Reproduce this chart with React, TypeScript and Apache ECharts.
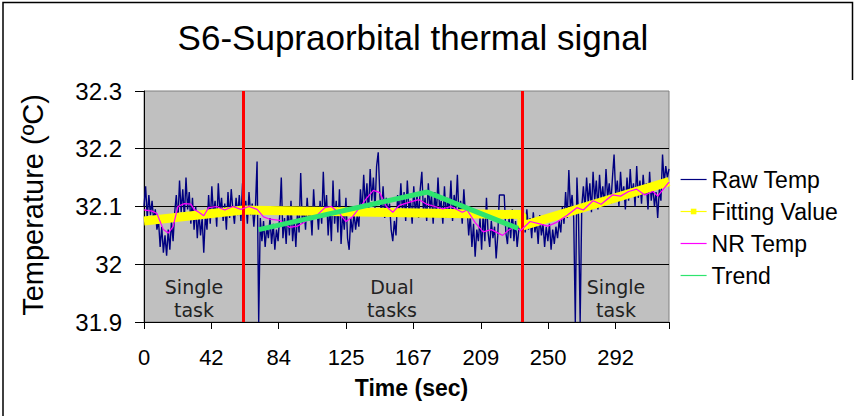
import React, { useEffect, useRef } from 'react';
import * as echarts from 'echarts';

// Raw temperature, one sample per second from t = 0 s to t = 325 s
const rawTemp = [
  32.100, 32.135, 32.080, 32.120, 32.085, 32.110, 32.075, 32.095, 32.060, 32.075,
  32.030, 32.065, 32.020, 32.050, 32.015, 32.060, 32.025, 32.075, 32.040, 32.090,
  32.120, 32.075, 32.145, 32.090, 32.130, 32.080, 32.150, 32.095, 32.125, 32.070,
  32.115, 32.060, 32.100, 32.045, 32.090, 32.050, 32.080, 32.020, 32.085, 32.060,
  32.120, 32.070, 32.135, 32.085, 32.110, 32.065, 32.140, 32.090, 32.115, 32.075,
  32.105, 32.060, 32.125, 32.080, 32.130, 32.095, 32.070, 32.115, 32.085, 32.120,
  32.075, 32.140, 32.090, 32.110, 32.070, 32.125, 32.085, 32.105, 32.065, 32.100,
  32.178, 31.900, 32.080, 32.040, 32.075, 32.030, 32.065, 32.045, 32.080, 32.035,
  32.070, 32.025, 32.060, 32.040, 32.085, 32.150, 32.045, 32.080, 32.035, 32.095,
  32.050, 32.110, 32.040, 32.075, 32.030, 32.090, 32.055, 32.158, 32.070, 32.100,
  32.060, 32.115, 32.075, 32.095, 32.050, 32.130, 32.080, 32.100, 32.060, 32.110,
  32.070, 32.160, 32.085, 32.120, 32.050, 32.100, 32.040, 32.145, 32.070, 32.110,
  32.055, 32.130, 32.035, 32.090, 32.060, 32.115, 32.045, 32.025, 32.080, 32.055,
  32.090, 32.060, 32.085, 32.065, 32.130, 32.090, 32.155, 32.100, 32.140, 32.085,
  32.165, 32.110, 32.150, 32.095, 32.170, 32.194, 32.120, 32.085, 32.135, 32.080,
  32.115, 32.090, 32.105, 32.060, 32.040, 32.075, 32.050, 32.120, 32.085, 32.140,
  32.090, 32.125, 32.075, 32.145, 32.095, 32.110, 32.070, 32.135, 32.085, 32.120,
  32.080, 32.130, 32.160, 32.090, 32.115, 32.075, 32.140, 32.095, 32.120, 32.070,
  32.125, 32.085, 32.150, 32.095, 32.110, 32.070, 32.135, 32.080, 32.115, 32.090,
  32.145, 32.075, 32.120, 32.095, 32.155, 32.080, 32.110, 32.070, 32.130, 32.085,
  32.100, 32.050, 32.085, 32.030, 32.070, 32.013, 32.060, 32.040, 32.080, 32.025,
  32.090, 32.040, 32.115, 32.055, 32.030, 32.075, 32.045, 32.065, 32.010, 32.050,
  32.120, 32.120, 32.120, 32.120, 32.055, 32.035, 32.080, 32.045, 32.095, 32.040,
  32.075, 32.030, 32.060, 32.090, 32.050, 32.085, 32.055, 32.095, 32.060, 32.080,
  32.045, 32.090, 32.055, 32.075, 32.035, 32.085, 32.050, 32.070, 32.030, 32.065,
  32.040, 32.070, 32.025, 32.060, 32.035, 32.065, 32.045, 32.075, 32.055, 32.100,
  32.070, 32.125, 32.080, 32.163, 32.095, 32.120, 32.080, 31.900, 32.150, 32.080,
  31.900, 32.100, 32.135, 32.095, 32.150, 32.105, 32.140, 32.090, 32.160, 32.110,
  32.145, 32.095, 32.155, 32.110, 32.135, 32.100, 32.165, 32.115, 32.140, 32.105,
  32.150, 32.190, 32.120, 32.145, 32.100, 32.160, 32.115, 32.135, 32.095, 32.150,
  32.110, 32.165, 32.120, 32.140, 32.100, 32.170, 32.115, 32.145, 32.105, 32.155,
  32.120, 32.140, 32.095, 32.160, 32.110, 32.135, 32.100, 32.125, 32.080, 32.130,
  32.110, 32.190, 32.140, 32.170, 32.150, 32.165,
];

// Noise-reduced temperature (read at knots)
const nrTimes = [
  0, 5, 8, 12, 15, 18, 21, 25, 29, 31, 34, 37, 40, 45, 50, 55, 60, 65, 70, 74,
  78, 84, 90, 95, 100, 106, 112, 116, 121, 125, 129, 134, 138, 142, 146, 150, 154, 158,
  165, 170, 175, 180, 185, 190, 197, 200, 205, 210, 215, 222, 226, 230, 233,
  239, 245, 250, 255, 262, 268, 272, 278, 283, 290, 295, 300, 305, 310, 315, 318, 325,
];
const nrValues = [
  32.094, 32.092, 32.088, 32.060, 32.054, 32.065, 32.100, 32.105, 32.104, 32.095, 32.090, 32.084, 32.098, 32.100, 32.094, 32.100, 32.095, 32.100, 32.095, 32.082,
  32.078, 32.076, 32.064, 32.066, 32.074, 32.082, 32.098, 32.100, 32.088, 32.074, 32.082, 32.100, 32.115, 32.128, 32.124, 32.100, 32.090, 32.102,
  32.108, 32.112, 32.104, 32.100, 32.096, 32.100, 32.090, 32.094, 32.072, 32.056, 32.060, 32.050, 32.060, 32.064, 32.058,
  32.074, 32.070, 32.066, 32.072, 32.085, 32.098, 32.094, 32.110, 32.104, 32.120, 32.118, 32.126, 32.130, 32.120, 32.126, 32.118, 32.142,
];

// Fitting value (piecewise linear fit)
const fitTimes = [0, 61.6, 233.9, 233.9, 325];
const fitValues = [32.075, 32.094, 32.086, 32.066, 32.143];

// Trend during the dual-task period
const trendTimes = [71, 175.3, 231.6];
const trendValues = [32.06, 32.125, 32.062];

// Task boundaries (s)
const taskBoundaries = [61.6, 233.9];

const xTickLabels = ['0', '42', '84', '125', '167', '209', '250', '292'];
const xStep = 41.7;
const xMax = 325;
const yMin = 31.9;
const yMax = 32.3;
const yStep = 0.1;

const FONT = 'Liberation Sans, Arial, sans-serif';

export default function App() {
  const ref = useRef<HTMLDivElement>(null);

  useEffect(() => {
    if (!ref.current) return;
    const chart = echarts.init(ref.current, undefined, { renderer: 'svg' });

    const option: any = {
      animation: false,
      backgroundColor: '#ffffff',
      title: {
        text: 'S6-Supraorbital thermal signal',
        left: 408,
        top: 15,
        textAlign: 'center',
        textStyle: { fontFamily: FONT, fontSize: 35, fontWeight: 'normal', color: '#000' },
      },
      grid: {
        left: 144,
        top: 91,
        width: 525,
        height: 231,
        show: true,
        backgroundColor: '#c0c0c0',
        borderColor: '#808080',
        borderWidth: 1,
      },
      legend: {
        orient: 'vertical',
        left: 680,
        top: 168,
        padding: 0,
        itemWidth: 26,
        itemHeight: 7,
        itemGap: 9,
        textStyle: { fontFamily: FONT, fontSize: 23, color: '#000' },
        data: [
          { name: 'Raw Temp', lineStyle: { width: 1.2, color: '#000080' }, itemStyle: { opacity: 0 } },
          { name: 'Fitting Value', lineStyle: { width: 1.2, color: '#ffff00' }, itemStyle: { color: '#ffff00' } },
          { name: 'NR Temp', lineStyle: { width: 1.2, color: '#ff00ff' }, itemStyle: { opacity: 0 } },
          { name: 'Trend', lineStyle: { width: 1.2, color: '#2ee46e' }, itemStyle: { opacity: 0 } },
        ],
      },
      xAxis: {
        type: 'value',
        min: 0,
        max: xMax,
        interval: xStep,
        axisLine: { show: true, onZero: false, lineStyle: { color: '#000', width: 1 } },
        axisTick: { show: true, length: 7, lineStyle: { color: '#000' } },
        splitLine: { show: false },
        axisLabel: {
          fontFamily: FONT,
          fontSize: 22,
          color: '#000',
          margin: 24,
          formatter: (v: number) => {
            const k = Math.round(v / xStep);
            return Math.abs(v - k * xStep) < 0.01 && k < xTickLabels.length ? xTickLabels[k] : '';
          },
        },
        name: 'Time (sec)',
        nameLocation: 'middle',
        nameGap: 54,
        nameTextStyle: { fontFamily: FONT, fontSize: 23, fontWeight: 'bold', color: '#000', padding: [0, 0, 0, 10] },
      },
      yAxis: {
        type: 'value',
        min: yMin,
        max: yMax,
        interval: yStep,
        axisLine: { show: true, onZero: false, lineStyle: { color: '#000', width: 1 } },
        axisTick: { show: true, length: 9, lineStyle: { color: '#000' } },
        splitLine: { show: true, showMinLine: false, showMaxLine: false, lineStyle: { color: '#000', width: 1 } },
        axisLabel: {
          fontFamily: FONT,
          fontSize: 24,
          color: '#000',
          margin: 22,
          formatter: (v: number) => String(Math.round(v * 10) / 10),
        },
      },
      graphic: [
        {
          type: 'polyline',
          silent: true,
          shape: { points: [[3, 420], [3, 2.5], [852.5, 2.5], [852.5, 80]] },
          style: { stroke: '#000', lineWidth: 1.5, fill: 'none' },
        },
        {
          type: 'text',
          x: 33,
          y: 205,
          rotation: Math.PI / 2,
          style: {
            text: 'Temperature (ºC)',
            fontFamily: FONT,
            fontSize: 29,
            fill: '#000',
            align: 'center',
            verticalAlign: 'middle',
          },
        },
        {
          type: 'text',
          x: 194,
          y: 298,
          z: 1,
          style: { text: 'Single\ntask', fontFamily: 'DejaVu Sans', fontSize: 19, lineHeight: 23, fill: '#222', align: 'center', verticalAlign: 'middle' },
        },
        {
          type: 'text',
          x: 392,
          y: 298,
          z: 1,
          style: { text: 'Dual\ntasks', fontFamily: 'DejaVu Sans', fontSize: 19, lineHeight: 23, fill: '#222', align: 'center', verticalAlign: 'middle' },
        },
        {
          type: 'text',
          x: 616,
          y: 298,
          z: 1,
          style: { text: 'Single\ntask', fontFamily: 'DejaVu Sans', fontSize: 19, lineHeight: 23, fill: '#222', align: 'center', verticalAlign: 'middle' },
        },
      ],
      series: [
        {
          name: 'Raw Temp',
          type: 'line',
          symbol: 'none',
          z: 3,
          lineStyle: { color: '#000080', width: 1.4 },
          itemStyle: { color: '#000080' },
          data: rawTemp.map((v, i) => [i, v]),
        },
        {
          name: 'Fitting Value',
          type: 'line',
          symbol: 'rect',
          symbolSize: 6,
          showSymbol: false,
          z: 4,
          lineStyle: { color: '#ffff00', width: 9 },
          itemStyle: { color: '#ffff00' },
          data: fitTimes.map((t, i) => [t, fitValues[i]]),
        },
        {
          name: 'NR Temp',
          type: 'line',
          symbol: 'none',
          z: 5,
          lineStyle: { color: '#ff00ff', width: 1.2 },
          itemStyle: { color: '#ff00ff' },
          data: nrTimes.map((t, i) => [t, nrValues[i]]),
        },
        {
          name: 'Trend',
          type: 'line',
          symbol: 'none',
          z: 6,
          lineStyle: { color: '#2ee46e', width: 5 },
          itemStyle: { color: '#2ee46e' },
          data: trendTimes.map((t, i) => [t, trendValues[i]]),
          markLine: {
            silent: true,
            symbol: ['none', 'none'],
            label: { show: false },
            lineStyle: { color: '#ff0000', width: 3, type: 'solid' },
            data: taskBoundaries.map((t) => ({ xAxis: t })),
          },
        },
      ],
    };

    chart.setOption(option);
    return () => chart.dispose();
  }, []);

  return (
    <div
      ref={ref}
      style={{ position: 'fixed', left: 0, top: 0, width: 855, height: 416, background: '#fff' }}
    />
  );
}
